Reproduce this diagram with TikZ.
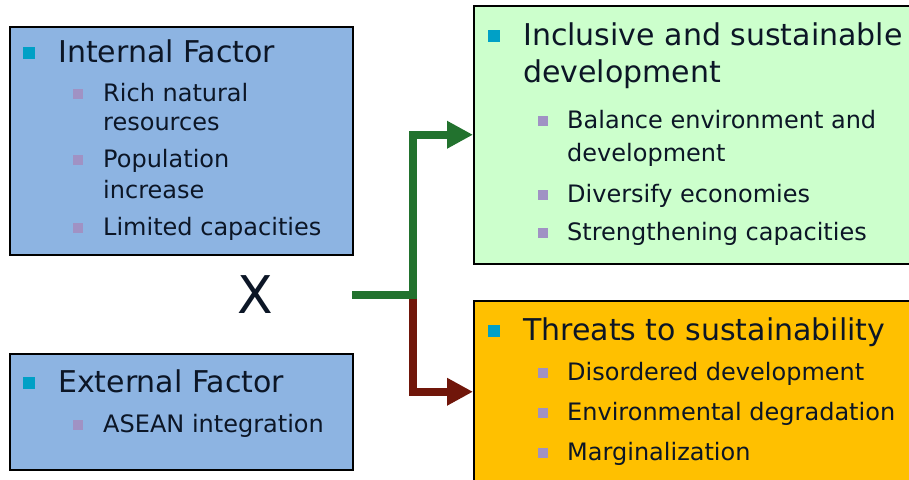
\documentclass[tikz,border=0pt]{standalone}
\usepackage{fontspec}
\setmainfont{DejaVu Sans}
\usetikzlibrary{arrows.meta}

\definecolor{factorblue}{RGB}{141,180,226}
\definecolor{goodgreen}{RGB}{204,255,204}
\definecolor{threatorange}{RGB}{255,192,0}
\definecolor{bultop}{RGB}{0,160,198}
\definecolor{bulsub}{RGB}{160,146,196}
\definecolor{ink}{RGB}{12,22,38}
\definecolor{arrgreen}{RGB}{34,114,46}
\definecolor{arrred}{RGB}{112,22,10}

\begin{document}
\begin{tikzpicture}
[x=1pt,y=-1pt,>={Triangle[length=26pt,width=26pt]},
box/.style={draw=black,line width=1.5pt,inner sep=0pt,anchor=north west},
mainbul/.style={fill=bultop,inner sep=0pt,minimum size=12pt},
subbul/.style={fill=bulsub,inner sep=0pt,minimum size=10pt},
head/.style={anchor=base west,inner sep=0pt,text=ink,font=\fontsize{30}{36}\selectfont},
item/.style={anchor=base west,inner sep=0pt,text=ink,font=\fontsize{24}{29}\selectfont},
link/.style={line width=8pt,line join=miter},]

\useasboundingbox (0,0) rectangle (909,479);

%Boxes
\node (int) at (9,26)[box,fill=factorblue,minimum width=343pt,minimum height=228pt] {};
\node (ext) at (9,353)[box,fill=factorblue,minimum width=343pt,minimum height=116pt] {};
\node (good) at (473,5)[box,fill=goodgreen,minimum width=440pt,minimum height=258pt] {};
\node (bad) at (473,300)[box,fill=threatorange,minimum width=440pt,minimum height=182pt] {};

%Internal factor
\node (intbul) at (28.5,53)[mainbul] {};
\node (inthead) at (58,62)[head] {Internal Factor};
\foreach \y/\txt/\b in {101/Rich natural/1,130/resources/0,167/Population/1,198/increase/0,235/Limited capacities/1}{
  \node (intitem\y) at (103,\y)[item] {\txt};
  \ifnum\b=1 \node at (78,\y-7)[subbul] {}; \fi
}

%External factor
\node (extbul) at (28.5,383)[mainbul] {};
\node (exthead) at (58,392)[head] {External Factor};
\node (extbul2) at (78,425)[subbul] {};
\node (extitem) at (103,432)[item] {ASEAN integration};

%Cross
\node (cross) at (255,295)[text=ink,font=\fontsize{52}{60}\selectfont] {X};

%Inclusive and sustainable development
\node (goodbul) at (493.5,36)[mainbul] {};
\node (goodhead) at (523,45)[head] {Inclusive and sustainable};
\node (goodhead2) at (523,82)[head] {development};
\foreach \y/\txt/\b in {128/Balance environment and/1,161/development/0,202/Diversify economies/1,240/Strengthening capacities/1}{
  \node (gooditem\y) at (567,\y)[item] {\txt};
  \ifnum\b=1 \node at (542.5,\y-7)[subbul] {}; \fi
}

%Threats to sustainability
\node (badbul) at (493.5,331)[mainbul] {};
\node (badhead) at (523,340)[head] {Threats to sustainability};
\foreach \y/\txt in {380/Disordered development,420/Environmental degradation,460/Marginalization}{
  \node (baditem\y) at (567,\y)[item] {\txt};
  \node at (542.5,\y-7)[subbul] {};
}

%Connectors
\coordinate (start) at (352,295);
\coordinate (fork) at (413,295);
\draw[link,arrred,->] (fork) |- (bad.west);
\draw[link,arrgreen,->] (start) -- (fork) |- (good.west);

\end{tikzpicture}
\end{document}
